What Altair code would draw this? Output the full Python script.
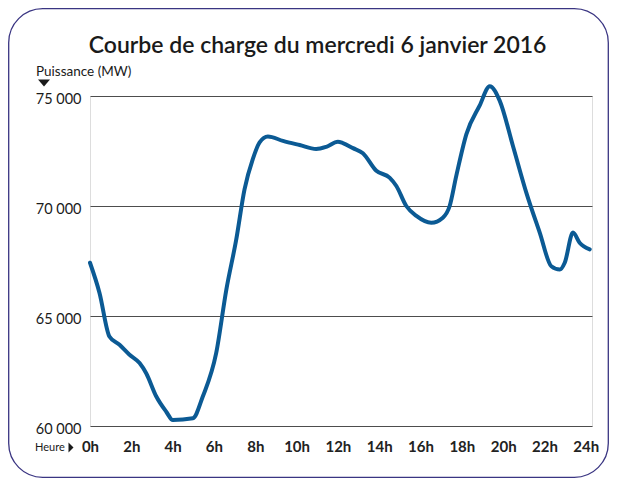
import altair as alt
import pandas as pd

# --- data ---
hours = [0, 0.46, 0.94, 1.43, 1.9, 2.40, 2.72, 3.21, 3.69, 4.01,
         4.98, 5.46, 6.11, 6.60, 7.08, 7.48, 7.88, 8.21, 8.61, 9.34,
         10.15, 10.95, 11.44, 12.00, 12.24, 12.73, 13.21, 13.86, 14.50, 14.83,
         15.31, 15.80, 16.52, 17.08, 17.41, 17.73, 18.22, 18.86, 19.35, 19.83,
         20.47, 21.12, 21.77, 22.33, 22.74, 22.98, 23.38, 23.70, 24.19]
power_mw = [67420, 66050, 64070, 63690, 63250, 62860, 62400, 61340, 60650, 60270,
            60350, 61340, 63320, 66200, 68480, 70760, 72130, 72890, 73160, 72960,
            72770, 72590, 72690, 72920, 72860, 72630, 72400, 71600, 71290, 70910,
            70000, 69550, 69240, 69470, 70000, 71370, 73270, 74560, 75440, 74790,
            72740, 70610, 68790, 67260, 67110, 67420, 68790, 68330, 68030]
x_ticks = [0, 2, 4, 6, 8, 10, 12, 14, 16, 18, 20, 22, 24]
y_ticks = [60000, 65000, 70000, 75000]
title_text = "Courbe de charge du mercredi 6 janvier 2016"
y_title = "Puissance (MW)"
x_title = "Heure"

FONT = "Lato"
W, H = 502, 330

df = pd.DataFrame({"h": hours, "mw": power_mw})
one = pd.DataFrame({"a": [0]})

line = alt.Chart(df).mark_line(
    color="#0b5a94", strokeWidth=4, strokeJoin="round", strokeCap="round",
    interpolate="monotone"
).encode(
    x=alt.X("h:Q", scale=alt.Scale(domain=[0, 24.3], nice=False, zero=False),
            axis=alt.Axis(values=x_ticks, labelExpr="datum.value + 'h'", grid=False,
                          domain=False, ticks=False, labelFontWeight="bold",
                          labelFontSize=15, labelColor="#222222", labelPadding=13,
                          labelFlush=False, labelFont=FONT, title=None)),
    y=alt.Y("mw:Q", scale=alt.Scale(domain=[60000, 75000], nice=False, zero=False),
            axis=alt.Axis(values=y_ticks,
                          labelExpr="replace(format(datum.value, ','), ',', ' ')",
                          grid=True, gridColor="#4d4d4d", gridWidth=1,
                          domain=False, ticks=False, labelFontSize=14.5,
                          labelColor="#1a1a1a", labelPadding=9, labelOffset=3,
                          labelFlush=False, labelFont=FONT, title=None)),
)

frame = alt.Chart(one).mark_rect(
    fillOpacity=0, stroke="#3a3582", strokeWidth=1.3, cornerRadius=34
).encode(x=alt.value(-81.3), x2=alt.value(518.3), y=alt.value(-87.3), y2=alt.value(381.3))

title = alt.Chart(one).mark_text(
    text=title_text, font=FONT, fontSize=23, fontWeight=600, color="#1a1a1a",
    align="center", baseline="alphabetic"
).encode(x=alt.value(227.6), y=alt.value(-43))

ytitle = alt.Chart(one).mark_text(
    text=y_title, font=FONT, fontSize=13.5, color="#1a1a1a", align="left", baseline="middle"
).encode(x=alt.value(-54), y=alt.value(-24))

ytri = alt.Chart(one).mark_point(
    shape="M-1,-0.58L1,-0.58L0,0.58Z", filled=True, color="#1a1a1a", size=144, opacity=1
).encode(x=alt.value(-46), y=alt.value(-13))

xtitle = alt.Chart(one).mark_text(
    text=x_title, font=FONT, fontSize=11, color="#1a1a1a", align="left", baseline="middle"
).encode(x=alt.value(-55), y=alt.value(351.5))

xtri = alt.Chart(one).mark_point(
    shape="M-0.5,-1L0.5,0L-0.5,1Z", filled=True, color="#1a1a1a", size=100, opacity=1
).encode(x=alt.value(-19), y=alt.value(351.5))

chart = alt.layer(line, frame, title, ytitle, ytri, xtitle, xtri).properties(
    width=W, height=H,
    autosize=alt.AutoSizeParams(type="none"),
    padding={"left": 82, "top": 88, "right": 17, "bottom": 52},
).configure_view(stroke=None).configure(background="white")

chart.save("out.html", embed_options={"renderer": "svg", "actions": False})
